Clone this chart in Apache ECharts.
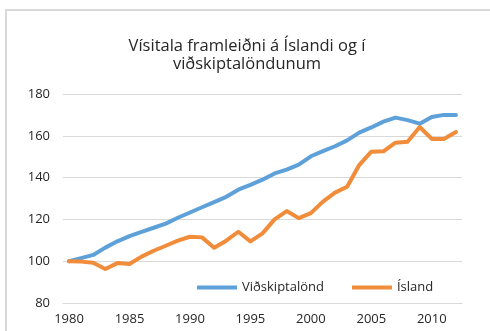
<!DOCTYPE html>
<html>
<head>
<meta charset="utf-8">
<script src="https://cdn.jsdelivr.net/npm/echarts@6/dist/echarts.min.js"></script>
<style>
  html, body { margin: 0; padding: 0; background: #ffffff; }
  #chart { width: 490px; height: 331px; }
</style>
</head>
<body>
<div id="chart"></div>
<script>
// Years 1980–2012
const years = [];
for (let y = 1980; y <= 2012; y++) years.push(String(y));

// Productivity index, 1980 = 100
const vidskiptalond = [100, 101.5, 103, 106.5, 109.5, 112, 114, 116, 118, 120.8,
  123.3, 125.8, 128.3, 130.8, 134.2, 136.5, 139, 142, 143.8, 146.2,
  150.2, 152.7, 155, 157.8, 161.5, 164, 166.8, 168.7, 167.5, 165.8,
  169, 170, 170];
const island = [100, 99.8, 99.3, 96.3, 99.1, 98.7, 102.2, 105, 107.4, 109.8,
  111.7, 111.4, 106.4, 109.8, 114.1, 109.5, 113.3, 120, 124, 120.6,
  123, 128.5, 132.8, 135.6, 146, 152.4, 152.6, 156.7, 157.2, 164.2,
  158.5, 158.5, 161.8];

const seriesNames = ['Viðskiptalönd', 'Ísland'];
const titleText = 'Vísitala framleiðni á Íslandi og í\nviðskiptalöndunum';

const font = '"Open Sans", "Noto Sans", sans-serif';
const blue = '#5EA0D8';
const orange = '#F08C3A';
const gridGray = '#d9d9d9';

const chart = echarts.init(document.getElementById('chart'), null, { renderer: 'canvas' });
chart.setOption({
  animation: false,
  backgroundColor: '#ffffff',
  graphic: [
    {
      // chart frame
      type: 'rect',
      shape: { x: 6, y: 10, width: 600, height: 400 },
      style: { fill: 'none', stroke: gridGray, lineWidth: 2 },
      silent: true
    },
    {
      // two-line centred heading
      type: 'text',
      x: 247,
      y: 37,
      silent: true,
      style: {
        text: titleText,
        align: 'center',
        verticalAlign: 'top',
        fontFamily: font,
        fontSize: 16.5,
        lineHeight: 18,
        fill: '#262626'
      }
    }
  ],
  legend: {
    left: 192,
    top: 276,
    itemWidth: 40,
    itemHeight: 4,
    itemGap: 28,
    icon: 'rect',
    textStyle: { fontFamily: font, fontSize: 13, color: '#262626', padding: [0, 0, 0, 0] },
    data: seriesNames
  },
  grid: { left: 63, right: 28, top: 94, bottom: 28, containLabel: false },
  xAxis: {
    type: 'category',
    data: years,
    boundaryGap: true,
    axisLine: { show: true, lineStyle: { color: gridGray, width: 1 } },
    axisTick: { show: false },
    axisLabel: { interval: 4, fontFamily: font, fontSize: 13, color: '#262626', margin: 10 }
  },
  yAxis: {
    type: 'value',
    min: 80,
    max: 180,
    interval: 20,
    axisLine: { show: false },
    axisTick: { show: false },
    axisLabel: { fontFamily: font, fontSize: 13, color: '#262626', margin: 13 },
    splitLine: { lineStyle: { color: gridGray, width: 1 } }
  },
  series: [
    {
      name: seriesNames[0],
      type: 'line',
      data: vidskiptalond,
      showSymbol: false,
      lineStyle: { color: blue, width: 4, join: 'round', cap: 'round' },
      itemStyle: { color: blue }
    },
    {
      name: seriesNames[1],
      type: 'line',
      data: island,
      showSymbol: false,
      lineStyle: { color: orange, width: 4, join: 'round', cap: 'round' },
      itemStyle: { color: orange }
    }
  ]
});
</script>
</body>
</html>
